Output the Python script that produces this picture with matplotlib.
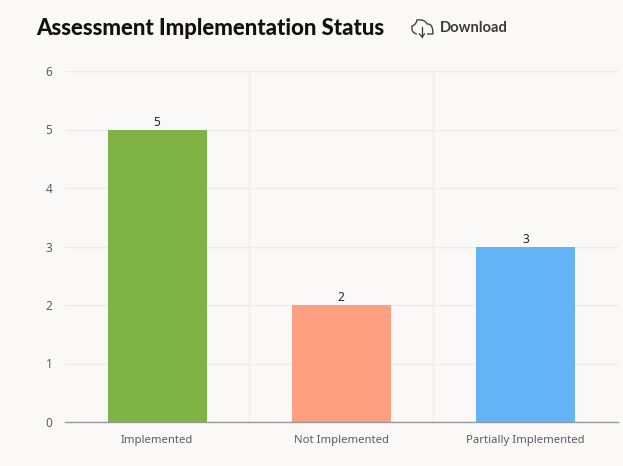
#!/usr/bin/env python3
import matplotlib
matplotlib.use("Agg")
import matplotlib.pyplot as plt
from matplotlib.patches import PathPatch
from matplotlib.path import Path

# Data
categories = ["Implemented", "Not Implemented", "Partially Implemented"]
values = [5, 2, 3]
bar_colors = ["#7fb345", "#ff9f82", "#62b4f7"]
yticks = [0, 1, 2, 3, 4, 5, 6]

bg = "#fbf9f8"
grid = "#ebebeb"
W, H = 623, 466

fig = plt.figure(figsize=(W / 100, H / 100), dpi=100, facecolor=bg)
ax = fig.add_axes([65 / W, (H - 422) / H, 552.5 / W, 351 / H], facecolor=bg)

xs = list(range(len(categories)))
bars = ax.bar(xs, values, width=0.537, color=bar_colors, zorder=3)
for x, v in zip(xs, values):
    ax.annotate(str(v), (x, v), xytext=(0, 0.6), textcoords="offset points",
                ha="center", va="bottom", fontsize=8.5, color="#222222",
                family="Noto Sans", zorder=4)

ax.set_xlim(-0.5, 2.5)
ax.set_ylim(0, 6)
ax.set_yticks(yticks)
ax.set_xticks(xs)
ax.set_xticklabels(categories, family="Noto Sans", fontsize=8.15, color="#5b5b66")
ax.tick_params(axis="x", length=0, pad=9)
ax.tick_params(axis="y", length=0, pad=9, labelsize=8.5, labelcolor="#5b5b66")
for lab in ax.get_yticklabels():
    lab.set_family("Noto Sans")

# Gridlines: horizontal at ticks, vertical between categories
ax.grid(axis="y", color=grid, lw=0.9, zorder=0)
for b in [0.5, 1.5]:
    ax.axvline(b, color=grid, lw=0.9, zorder=0)

for s in ["top", "right", "left"]:
    ax.spines[s].set_visible(False)
ax.spines["bottom"].set_color("#9a9a9a")
ax.spines["bottom"].set_linewidth(1.0)
ax.spines["bottom"].set_zorder(5)

fig.text(36 / W, 1 - 35 / H, "Assessment Implementation Status", family="Lato",
         weight="black", fontsize=15.9, color="#111111", va="baseline")
fig.text(440 / W, 1 - 32 / H, "Download", family="Lato", weight="bold",
         fontsize=10.6, color="#3a3a3a", va="baseline")

# Cloud-download icon, pixel coordinates
px = fig.add_axes([0, 0, 1, 1], facecolor="none")
px.set_xlim(0, W)
px.set_ylim(H, 0)
px.axis("off")
cloud = Path(
    [(417, 34), (411, 33), (412, 26), (416, 25), (417, 20), (425, 19), (427, 24),
     (433, 23), (433, 34), (427, 34)],
    [Path.MOVETO, Path.CURVE3, Path.CURVE3, Path.CURVE3, Path.CURVE3, Path.CURVE3,
     Path.CURVE3, Path.CURVE3, Path.CURVE3, Path.LINETO])
px.add_patch(PathPatch(cloud, fill=False, ec="#333333", lw=0.9))
px.plot([422, 422], [27, 37], color="#333333", lw=0.9)
px.plot([419.5, 422, 424.5], [34, 37, 34], color="#333333", lw=0.9)

fig.savefig("out.png", dpi=100, facecolor=bg)
